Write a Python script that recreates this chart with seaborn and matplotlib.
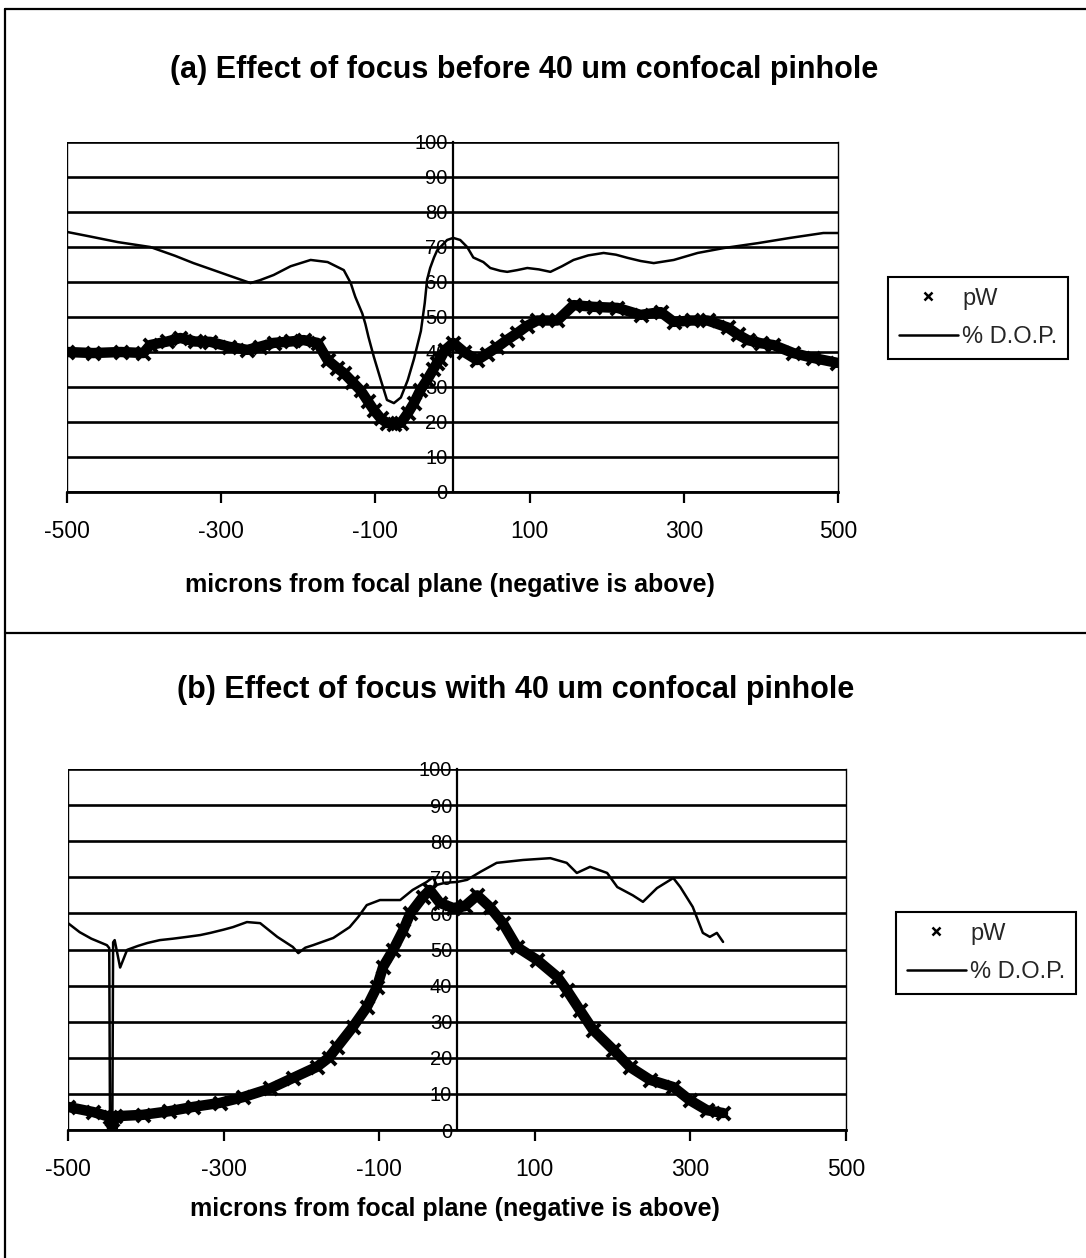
import matplotlib
matplotlib.use("Agg")
import matplotlib.pyplot as plt
from matplotlib.lines import Line2D
import seaborn as sns

# ---------------- data ----------------
# (a) before the 40 um confocal pinhole
a_dop_x = [-500, -470, -434, -392, -360, -336, -310, -292, -262, -250, -232, -210, -184, -162,
           -141, -132, -128, -126, -117, -113, -109, -102, -93, -85, -76, -67, -58, -50, -41,
           -36, -33, -29, -24, -20, -7, 1, 10, 19, 27, 40, 49, 62, 71, 84, 97, 112, 127, 142,
           157, 176, 196, 212, 227, 244, 261, 287, 318, 352, 396, 438, 481, 500]
a_dop_y = [74.3, 73, 71.4, 70, 67.5, 65.4, 63.4, 62, 59.7, 60.5, 62, 64.5, 66.3, 65.7,
           63.4, 59.7, 57, 55.7, 51, 48, 44.3, 38.6, 32, 26.3, 25.4, 27, 32, 38, 46,
           54, 60.6, 64, 67, 69, 72, 72.6, 72, 70, 67, 65.7, 64, 63.2, 62.9, 63.4, 64, 63.6, 62.9, 64.5,
           66.3, 67.6, 68.3, 67.8, 66.9, 66, 65.4, 66.3, 68.3, 69.7, 71.1, 72.6, 74, 74]

a_pw_x = [-500, -466, -430, -401, -392, -370, -353, -334, -314, -290, -266, -250, -232, -210,
          -193, -175, -162, -150, -141, -130, -119, -110, -102, -93, -85, -76, -67, -58, -50,
          -42, -33, -25, -20, -16, -10, 1, 15, 32, 45, 58, 71, 84, 97, 110, 136, 157, 183,
          214, 244, 270, 287, 310, 331, 357, 370, 383, 400, 416, 442, 468, 499]
a_pw_y = [40, 39.7, 40, 39.7, 42, 43, 44, 43, 42.9, 41.5, 40.6, 41.5, 42.6, 43,
          43.4, 42.6, 37.7, 35.5, 34, 31.5, 29, 26, 23.4, 21, 19.7, 19.5, 19.7, 22.5, 25.4,
          29, 32, 35, 36.9, 38, 40.5, 42.6, 40, 37.7, 39.5, 41.4, 43.5, 45.4, 47.5, 49, 49, 53.4, 52.9,
          52.6, 50.6, 51.4, 48.6, 49, 49, 47, 45, 43.4, 42.5, 42, 39.7, 38.3, 36.9]

# (b) with the 40 um confocal pinhole
b_dop_x = [-500, -485, -470, -450, -447, -446, -443, -442, -440, -433, -424, -410, -398, -382,
           -365, -347, -330, -317, -300, -288, -270, -253, -231, -211, -204, -195, -185, -159,
           -138, -127, -116, -99, -73, -57, -39, -31, -26, -15, 0, 13, 30, 51, 85, 120, 141,
           154, 171, 193, 206, 226, 239, 257, 278, 287, 303, 316, 325, 334, 342]
b_dop_y = [57.3, 54.8, 53, 51.2, 50.4, 1, 1, 52, 52.6, 45, 49.9, 51, 51.8, 52.6,
           53, 53.5, 54, 54.6, 55.5, 56.2, 57.6, 57.3, 53.5, 50.7, 49, 50.5, 51.2, 53.2,
           56.2, 59, 62.3, 63.7, 63.7, 66.5, 68.7, 70, 67.9, 68.5, 68.7, 69.3, 71.5, 74, 74.8, 75.3, 74,
           71.2, 72.9, 71.2, 67.3, 65, 63.2, 67, 69.8, 67.3, 61.8, 54.6, 53.5, 54.6, 52.1]

b_pw_x = [-500, -468, -446, -443, -440, -404, -370, -339, -305, -275, -240, -211, -180, -165,
          -154, -134, -116, -103, -95, -82, -69, -60, -44, -35, -22, -5, 10, 26, 42, 59, 77,
          103, 129, 141, 158, 175, 201, 222, 248, 278, 299, 321, 342]
b_pw_y = [6.4, 5, 3.6, 0, 3.8, 4.2, 5.2, 6.4, 7.5, 9.1, 11.5, 14.4, 17.5, 20,
          23, 28.5, 34, 39.6, 45.2, 49.9, 55.4, 60, 64.5, 66.5, 62.9, 61.5, 62, 65, 61.8, 57.3, 50.7,
          47.1, 42.4, 38.8, 33.2, 27.7, 22.2, 17.5, 13.9, 11.9, 8.3, 5.5, 4.7]

titles = ["(a) Effect of focus before 40 um confocal pinhole",
          "(b) Effect of focus with 40 um confocal pinhole"]
xlabel = "microns from focal plane (negative is above)"
x_ticks = [-500, -300, -100, 100, 300, 500]
y_ticks = list(range(0, 101, 10))
series_names = ["pW", "% D.O.P."]

# ---------------- style ----------------
sns.set_theme(style="white")
plt.rcParams["font.family"] = ["Liberation Sans", "DejaVu Sans"]

W, H = 1086, 1258
fig = plt.figure(figsize=(W / 100, H / 100), dpi=100)
fig.patch.set_facecolor("white")


def rect(x0, x1, ytop, ybot):
    return [x0 / W, 1 - ybot / H, (x1 - x0) / W, (ybot - ytop) / H]


panels = [
    dict(box=(67, 838, 142, 492), title_xy=(524, 70), xlabel_xy=(450, 585),
         legend_xy=(888, 277), dop=(a_dop_x, a_dop_y), pw=(a_pw_x, a_pw_y)),
    dict(box=(68, 846, 769, 1130), title_xy=(516, 690), xlabel_xy=(455, 1209),
         legend_xy=(896, 912), dop=(b_dop_x, b_dop_y), pw=(b_pw_x, b_pw_y)),
]

for i, p in enumerate(panels):
    x0, x1, ytop, ybot = p["box"]
    ax = fig.add_axes(rect(x0, x1, ytop, ybot))
    ax.set_facecolor("white")
    ax.set_xlim(-500, 500)
    ax.set_ylim(0, 100)

    # horizontal gridlines every 10
    ax.set_axisbelow(True)
    ax.yaxis.grid(True, color="black", lw=1.9)
    ax.xaxis.grid(False)

    # pW: dense band of x markers
    pw_x, pw_y = p["pw"]
    sns.lineplot(x=pw_x, y=pw_y, ax=ax, sort=False, estimator=None,
                 color="black", lw=7.5, zorder=3)
    sns.scatterplot(x=pw_x, y=pw_y, ax=ax, marker="x", s=90, color="black",
                    linewidth=2.8, zorder=4)

    # % D.O.P. line
    dop_x, dop_y = p["dop"]
    sns.lineplot(x=dop_x, y=dop_y, ax=ax, sort=False, estimator=None,
                 color="black", lw=1.8, zorder=5)

    # axes: value axis crosses at x = 0
    ax.spines["top"].set_visible(False)
    ax.spines["left"].set_position(("data", 0))
    ax.spines["left"].set_color("black")
    ax.spines["left"].set_linewidth(1.6)
    ax.spines["bottom"].set_color("black")
    ax.spines["bottom"].set_linewidth(2.0)
    ax.spines["right"].set_color("black")
    ax.spines["right"].set_linewidth(1.0)
    ax.axvline(-500, color="black", lw=1.0, zorder=2)

    ax.set_yticks(y_ticks)
    ax.set_yticklabels([str(v) for v in y_ticks])
    ax.tick_params(axis="y", which="both", length=3, width=1.2, direction="inout",
                   labelsize=14.5, pad=2, colors="black")
    ax.set_xticks(x_ticks)
    ax.set_xticklabels([str(v) for v in x_ticks])
    ax.tick_params(axis="x", length=8, width=1.6, direction="out",
                   labelsize=16.5, pad=12, colors="black", bottom=True)

    ax.set_xlabel(xlabel, fontsize=18, fontweight="bold", color="black")
    ax.xaxis.set_label_coords((p["xlabel_xy"][0] - x0) / (x1 - x0),
                              (ybot - p["xlabel_xy"][1]) / (ybot - ytop))
    ax.xaxis.label.set_va("center")
    ax.set_ylabel("")

    fig.text(p["title_xy"][0] / W, 1 - p["title_xy"][1] / H, titles[i],
             ha="center", va="center", fontsize=22, fontweight="bold", color="black")

    handles = [
        Line2D([], [], ls="none", marker="x", color="black", ms=6, mew=1.8),
        Line2D([], [], color="black", lw=1.8),
    ]
    leg = ax.legend(handles, series_names, loc="upper left",
                    bbox_to_anchor=(p["legend_xy"][0] / W, 1 - p["legend_xy"][1] / H),
                    bbox_transform=fig.transFigure, borderaxespad=0,
                    frameon=True, fancybox=False, edgecolor="black", framealpha=1,
                    fontsize=17, handlelength=2.5, handletextpad=0.2,
                    labelspacing=0.7, borderpad=0.45)
    leg.get_frame().set_linewidth(1.5)

# panel frames
border_kw = dict(transform=fig.transFigure, color="black", lw=1.6)
fig.add_artist(Line2D([5 / W, 5 / W], [0, 1 - 9 / H], **border_kw))
fig.add_artist(Line2D([5 / W, 1], [1 - 9 / H, 1 - 9 / H], **border_kw))
fig.add_artist(Line2D([5 / W, 1], [1 - 633 / H, 1 - 633 / H], **border_kw))

fig.savefig("out.png", dpi=100, facecolor="white")
